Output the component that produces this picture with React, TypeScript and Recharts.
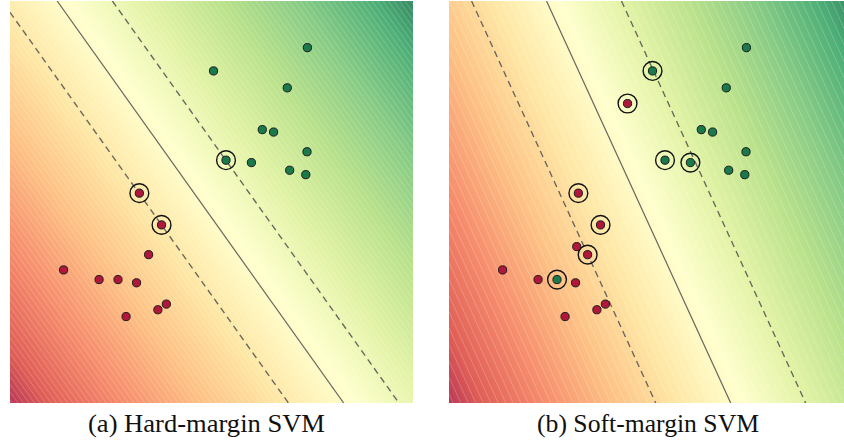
import React from 'react';
import { ScatterChart, Scatter, XAxis, YAxis, ReferenceLine, ReferenceArea } from 'recharts';

type Pt = { x: number; y: number };

// Feature space is the unit box [0, 10] x [0, 10].
const DOMAIN: [number, number] = [0, 10];

// Hard-margin dataset
const hardGreen: Pt[] = [
  { x: 7.38, y: 8.84 }, { x: 5.05, y: 8.26 }, { x: 6.88, y: 7.84 }, { x: 6.26, y: 6.8 },
  { x: 6.54, y: 6.74 }, { x: 7.37, y: 6.25 }, { x: 5.36, y: 6.04 }, { x: 5.99, y: 5.98 },
  { x: 6.94, y: 5.79 }, { x: 7.34, y: 5.68 },
];
const hardRed: Pt[] = [
  { x: 3.21, y: 5.22 }, { x: 3.76, y: 4.43 }, { x: 3.44, y: 3.69 }, { x: 1.33, y: 3.31 },
  { x: 2.21, y: 3.07 }, { x: 2.68, y: 3.07 }, { x: 3.14, y: 2.99 }, { x: 3.88, y: 2.46 },
  { x: 3.67, y: 2.32 }, { x: 2.88, y: 2.15 },
];
const hardSupport: Pt[] = [{ x: 5.36, y: 6.04 }, { x: 3.21, y: 5.22 }, { x: 3.76, y: 4.43 }];

// Soft-margin dataset (one flipped label, two extra red samples)
const softGreen: Pt[] = [
  { x: 7.38, y: 8.84 }, { x: 5.05, y: 8.26 }, { x: 6.88, y: 7.84 }, { x: 6.26, y: 6.8 },
  { x: 6.54, y: 6.74 }, { x: 7.37, y: 6.25 }, { x: 5.36, y: 6.04 }, { x: 5.99, y: 5.98 },
  { x: 6.94, y: 5.79 }, { x: 7.34, y: 5.68 }, { x: 2.68, y: 3.07 },
];
const softRed: Pt[] = [
  { x: 4.43, y: 7.45 }, { x: 3.21, y: 5.22 }, { x: 3.76, y: 4.43 }, { x: 3.17, y: 3.89 },
  { x: 3.44, y: 3.69 }, { x: 1.33, y: 3.31 }, { x: 2.21, y: 3.07 }, { x: 3.14, y: 2.99 },
  { x: 3.88, y: 2.46 }, { x: 3.67, y: 2.32 }, { x: 2.88, y: 2.15 },
];
const softSupport: Pt[] = [
  { x: 5.05, y: 8.26 }, { x: 4.43, y: 7.45 }, { x: 5.36, y: 6.04 }, { x: 5.99, y: 5.98 },
  { x: 3.21, y: 5.22 }, { x: 3.76, y: 4.43 }, { x: 3.44, y: 3.69 }, { x: 2.68, y: 3.07 },
];

// Decision function f(x, y) = (x - slope * (10 - y) - offset) / margin
interface Boundary { slope: number; offset: number; margin: number }
const hardBoundary: Boundary = { slope: 0.711, offset: 1.17, margin: 1.37 };
const softBoundary: Boundary = { slope: 0.457, offset: 2.42, margin: 1.86 };

const captions = ['(a) Hard-margin SVM', '(b) Soft-margin SVM'];

const RdYlGn = [
  '#a50026', '#d73027', '#f46d43', '#fdae61', '#fee08b', '#ffffbf',
  '#d9ef8b', '#a6d96a', '#66bd63', '#1a9850', '#006837',
];
const FIELD_ALPHA = 0.78;
// fraction of the colormap left unused at each end
const CMAP_INSET = 0.05;
const LEVEL_STEP = 0.1;

const RED = '#b0173a';
const GREEN = '#1a7a4c';
const LINE = '#555555';

const evalF = (b: Boundary, x: number, y: number) =>
  (x - b.slope * (DOMAIN[1] - y) - b.offset) / b.margin;

// Segment of the level set f = v, clipped to the domain box.
function levelSegment(b: Boundary, v: number): [Pt, Pt] | null {
  const [lo, hi] = DOMAIN;
  const c = b.offset + b.margin * v;
  const xAt = (y: number) => c + b.slope * (hi - y);
  const yAt = (x: number) => hi - (x - c) / b.slope;
  let p1: Pt = { x: xAt(hi), y: hi };
  if (p1.x < lo) p1 = { x: lo, y: yAt(lo) };
  let p2: Pt = { x: xAt(lo), y: lo };
  if (p2.x > hi) p2 = { x: hi, y: yAt(hi) };
  if (p1.x > hi || p2.x < lo || p1.y < lo || p2.y > hi || p1.y < p2.y) return null;
  return [p1, p2];
}

function DecisionField(props: any) {
  const { x, y, width, height, id, boundary } = props;
  const b: Boundary = boundary;
  const [lo, hi] = DOMAIN;
  const span = hi - lo;
  const px = (dx: number) => x + ((dx - lo) / span) * width;
  const py = (dy: number) => y + ((hi - dy) / span) * height;

  const fmin = evalF(b, lo, lo);
  const fmax = evalF(b, hi, hi);
  // gradient of f in pixel space
  const gx = span / (width * b.margin);
  const gy = -(span * b.slope) / (height * b.margin);
  const g2 = gx * gx + gy * gy;
  const k = (fmax - fmin) / g2;
  const x1 = px(lo);
  const y1 = py(lo);
  const x2 = x1 + gx * k;
  const y2 = y1 + gy * k;

  const levels: number[] = [];
  for (let v = Math.ceil(fmin / LEVEL_STEP); v * LEVEL_STEP <= fmax; v++) levels.push(v * LEVEL_STEP);

  // offsets are positions along [fmin, fmax]; colours use the inset colormap range
  const n = RdYlGn.length - 1;
  const stops = RdYlGn.map((c, i) => {
    const t = i / n;
    const off = (t - CMAP_INSET) / (1 - 2 * CMAP_INSET);
    return { off, c };
  });

  return (
    <g>
      <defs>
        <linearGradient id={id} gradientUnits="userSpaceOnUse" x1={x1} y1={y1} x2={x2} y2={y2}>
          {stops.map((s, i) => (
            <stop key={i} offset={Math.min(1, Math.max(0, s.off))} stopColor={s.c} stopOpacity={FIELD_ALPHA} />
          ))}
        </linearGradient>
      </defs>
      <rect x={x} y={y} width={width} height={height} fill="#ffffff" />
      <rect x={x} y={y} width={width} height={height} fill={`url(#${id})`} />
      {levels.map((v) => {
        const seg = levelSegment(b, v);
        if (!seg) return null;
        return (
          <line
            key={v.toFixed(2)}
            x1={px(seg[0].x)} y1={py(seg[0].y)} x2={px(seg[1].x)} y2={py(seg[1].y)}
            stroke="#ffffff" strokeOpacity={0.35} strokeWidth={0.6}
          />
        );
      })}
    </g>
  );
}

const dot = (fill: string) => (p: any) => (
  <circle cx={p.cx} cy={p.cy} r={4.1} fill={fill} stroke="#1a1a1a" strokeWidth={1} />
);
const ring = (p: any) => (
  <circle cx={p.cx} cy={p.cy} r={9.4} fill="none" stroke="#111111" strokeWidth={1.4} />
);

interface PanelProps {
  id: string;
  left: number;
  green: Pt[];
  red: Pt[];
  support: Pt[];
  boundary: Boundary;
}

function Panel({ id, left, green, red, support, boundary }: PanelProps) {
  return (
    <div style={{ position: 'absolute', left, top: 1 }}>
      <ScatterChart width={403} height={402} margin={{ top: 0, right: 0, bottom: 0, left: 0 }}>
        <XAxis type="number" dataKey="x" domain={DOMAIN} hide allowDataOverflow />
        <YAxis type="number" dataKey="y" domain={DOMAIN} hide allowDataOverflow />
        <ReferenceArea
          x1={DOMAIN[0]} x2={DOMAIN[1]} y1={DOMAIN[0]} y2={DOMAIN[1]}
          ifOverflow="visible"
          shape={(p: any) => <DecisionField {...p} id={id} boundary={boundary} />}
        />
        {[-1, 0, 1].map((v) => {
          const seg = levelSegment(boundary, v);
          if (!seg) return null;
          return (
            <ReferenceLine
              key={v}
              segment={seg}
              ifOverflow="visible"
              stroke={LINE}
              strokeOpacity={0.9}
              strokeWidth={v === 0 ? 1.2 : 1.35}
              strokeDasharray={v === 0 ? undefined : '6.5 4.5'}
            />
          );
        })}
        <Scatter data={red} isAnimationActive={false} shape={dot(RED)} />
        <Scatter data={green} isAnimationActive={false} shape={dot(GREEN)} />
        <Scatter data={support} isAnimationActive={false} shape={ring} />
      </ScatterChart>
    </div>
  );
}

const CAPTION_FONT = "'Liberation Serif', 'Times New Roman', Times, serif";

export default function App() {
  return (
    <div
      style={{
        position: 'absolute', left: 0, top: 0, width: 844, height: 445,
        overflow: 'hidden', background: '#ffffff',
      }}
    >
      <Panel id="field-hard" left={10} green={hardGreen} red={hardRed} support={hardSupport} boundary={hardBoundary} />
      <Panel id="field-soft" left={449} green={softGreen} red={softRed} support={softSupport} boundary={softBoundary} />
      <svg width={844} height={445} style={{ position: 'absolute', left: 0, top: 0, pointerEvents: 'none' }}>
        <text x={206.5} y={432} textAnchor="middle" fontFamily={CAPTION_FONT} fontSize={25}
          textLength={237} lengthAdjust="spacingAndGlyphs" fill="#111">
          {captions[0]}
        </text>
        <text x={648} y={432} textAnchor="middle" fontFamily={CAPTION_FONT} fontSize={25}
          textLength={222} lengthAdjust="spacingAndGlyphs" fill="#111">
          {captions[1]}
        </text>
      </svg>
    </div>
  );
}
